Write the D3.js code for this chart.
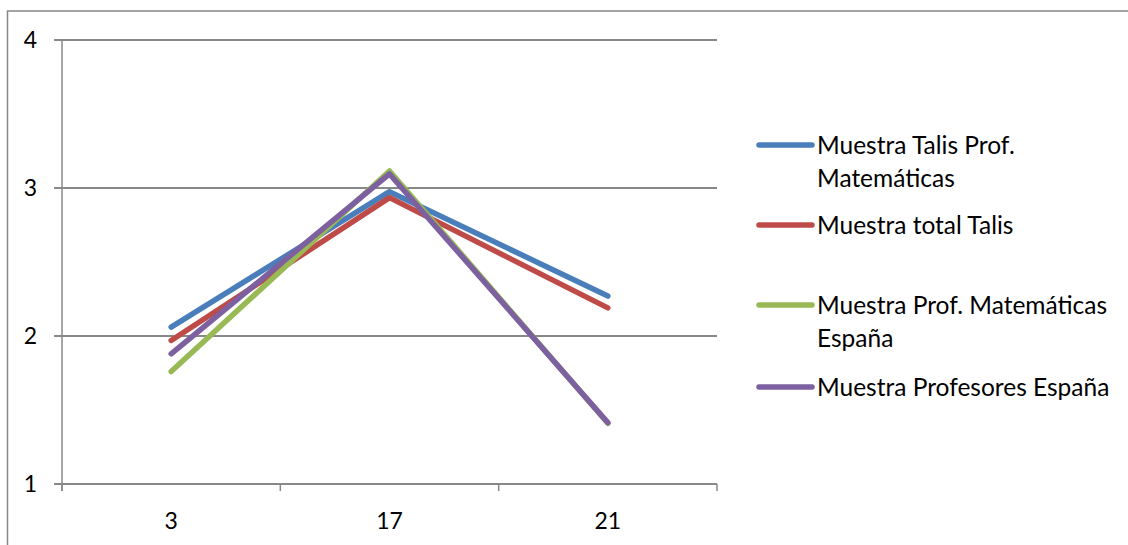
<!DOCTYPE html>
<html><head><meta charset="utf-8">
<script src="https://cdn.jsdelivr.net/npm/d3@7"></script>
<style>html,body{margin:0;padding:0;background:#fff;}svg{display:block;}</style>
</head><body>
<svg id="c" width="1128" height="545"></svg>
<script>
const categories = ["3", "17", "21"];
const yTicks = [1, 2, 3, 4];
const seriesNames = [
  ["Muestra Talis Prof.", "Matemáticas"],
  ["Muestra total Talis"],
  ["Muestra Prof. Matemáticas", "España"],
  ["Muestra Profesores España"]
];
const talisMat = [2.06, 2.975, 2.27];
const talisTotal = [1.97, 2.935, 2.19];
const espMat = [1.76, 3.115, 1.41];
const espProf = [1.88, 3.095, 1.415];
const colors = ["#4A7EBB", "#BE4B48", "#98B954", "#7D60A0"];
const seriesValues = [talisMat, talisTotal, espMat, espProf];

const font = "Lato, 'Open Sans', sans-serif";
const svg = d3.select("#c");
const grey = "#888888";

// outer chart border
svg.append("rect").attr("x", 7.5).attr("y", 11).attr("width", 1200).attr("height", 600)
  .attr("fill", "none").attr("stroke", grey).attr("stroke-width", 1.5);

const L = 62, R = 717, T = 40, B = 484;
const x = d3.scaleBand().domain(categories).range([L, R]).padding(0);
const y = d3.scaleLinear().domain([1, 4]).range([B, T]);

// gridlines
svg.append("g").selectAll("line").data(yTicks).join("line")
  .attr("x1", L - 8).attr("x2", R).attr("y1", d => y(d)).attr("y2", d => y(d))
  .attr("stroke", grey).attr("stroke-width", 2);

// y axis line
svg.append("line").attr("x1", L).attr("x2", L).attr("y1", T).attr("y2", B + 7)
  .attr("stroke", grey).attr("stroke-width", 1.5);

// x tick marks at band edges
const edges = categories.map(c => x(c)).concat([R]);
svg.append("g").selectAll("line").data(edges).join("line")
  .attr("x1", d => d).attr("x2", d => d).attr("y1", B).attr("y2", B + 7)
  .attr("stroke", grey).attr("stroke-width", 1.5);

// y labels
svg.append("g").selectAll("text").data(yTicks).join("text")
  .attr("x", 37).attr("y", d => y(d)).attr("dy", "0.36em")
  .attr("text-anchor", "end").attr("font-family", font).attr("font-size", 23).attr("fill", "#000")
  .text(d => d);

// x labels
svg.append("g").selectAll("text").data(categories).join("text")
  .attr("x", d => x(d) + x.bandwidth() / 2).attr("y", 521).attr("dy", "0.36em")
  .attr("text-anchor", "middle").attr("font-family", font).attr("font-size", 23).attr("fill", "#000")
  .text(d => d);

// lines
const line = d3.line().x((d, i) => x(categories[i]) + x.bandwidth() / 2).y(d => y(d));
svg.append("g").selectAll("path").data(seriesValues).join("path")
  .attr("d", d => line(d)).attr("fill", "none")
  .attr("stroke", (d, i) => colors[i]).attr("stroke-width", 5.5)
  .attr("stroke-linecap", "round").attr("stroke-linejoin", "round");

// legend
const legendY = [145, 225, 305, 387];
const lg = svg.append("g");
seriesNames.forEach((names, i) => {
  lg.append("line").attr("x1", 759).attr("x2", 812).attr("y1", legendY[i]).attr("y2", legendY[i])
    .attr("stroke", colors[i]).attr("stroke-width", 5.5).attr("stroke-linecap", "round");
  names.forEach((n, j) => {
    lg.append("text").attr("x", 817).attr("y", legendY[i] + j * 33).attr("dy", "0.36em")
      .attr("font-family", font).attr("font-size", 24.5).attr("fill", "#000").text(n);
  });
});
</script>
</body></html>
